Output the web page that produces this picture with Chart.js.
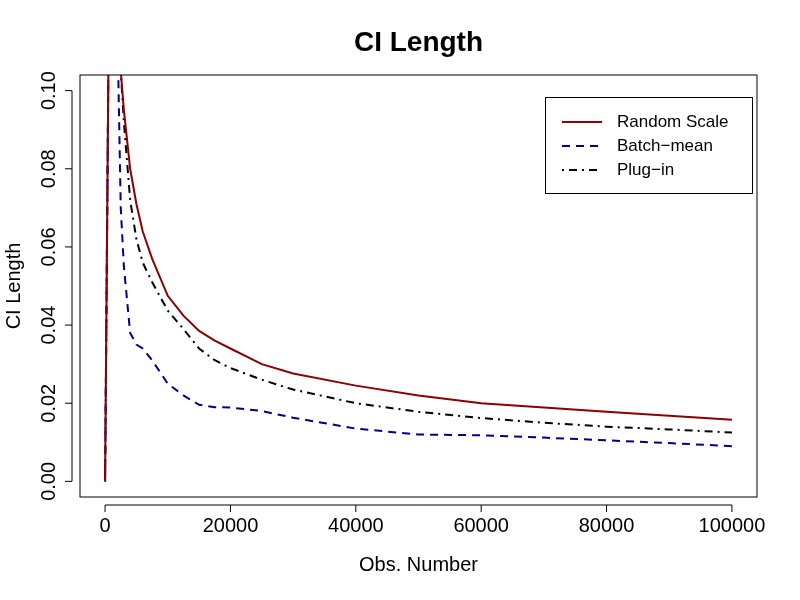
<!DOCTYPE html>
<html><head><meta charset="utf-8">
<script src="https://cdn.jsdelivr.net/npm/chart.js@4/dist/chart.umd.min.js"></script>
<style>html,body{margin:0;background:#fff}#wrap{width:800px;height:600px}</style>
</head><body><div id="wrap"><canvas id="c" width="800" height="600"></canvas></div>
<script>
var obs = [0, 1000, 2500, 3000, 4000, 5000, 6000, 7500, 10000, 12500, 15000, 17500, 20000, 25000, 30000, 40000, 50000, 60000, 70000, 80000, 90000, 100000];
var randomScale = [0, 0.2, 0.105, 0.095, 0.080, 0.071, 0.064, 0.057, 0.0475, 0.0424, 0.0385, 0.036, 0.034, 0.030, 0.0276, 0.0245, 0.022, 0.020, 0.0189, 0.0178, 0.0168, 0.0158];
var batchMean = [0, 0.2, 0.07, 0.055, 0.038, 0.035, 0.034, 0.031, 0.025, 0.022, 0.0196, 0.019, 0.0189, 0.018, 0.0163, 0.0135, 0.012, 0.0118, 0.0112, 0.0105, 0.0098, 0.009];
var plugIn = [0, 0.2, 0.105, 0.092, 0.072, 0.062, 0.056, 0.051, 0.0437, 0.039, 0.034, 0.031, 0.029, 0.026, 0.0235, 0.020, 0.0178, 0.0162, 0.015, 0.014, 0.0133, 0.0125];
var xTicks = [0, 20000, 40000, 60000, 80000, 100000];
var yTicks = [0, 0.02, 0.04, 0.06, 0.08, 0.10];

function pts(ys) { return obs.map(function (x, i) { return { x: x, y: ys[i] }; }); }

var FONT = 'Liberation Sans, Arial, sans-serif';
var series = [
  { label: 'Random Scale', color: '#8b0000', dash: [] },
  { label: 'Batch\u2212mean', color: '#00008b', dash: [8, 6] },
  { label: 'Plug\u2212in', color: '#000000', dash: [2, 5, 8, 5] }
];

var decor = {
  id: 'decor',
  afterDraw: function (chart) {
    var ctx = chart.ctx, a = chart.chartArea, xs = chart.scales.x, ys = chart.scales.y;
    ctx.save();
    ctx.strokeStyle = '#000'; ctx.lineWidth = 1; ctx.fillStyle = '#000';
    ctx.strokeRect(a.left, a.top, a.right - a.left, a.bottom - a.top);
    ctx.font = '20px ' + FONT;
    ctx.textAlign = 'center'; ctx.textBaseline = 'top';
    ctx.beginPath();
    ctx.moveTo(xs.getPixelForValue(0), a.bottom + 8); ctx.lineTo(xs.getPixelForValue(100000), a.bottom + 8);
    xTicks.forEach(function (t) {
      var p = xs.getPixelForValue(t);
      ctx.moveTo(p, a.bottom + 8); ctx.lineTo(p, a.bottom + 15);
      ctx.fillText(String(t), p, a.bottom + 19);
    });
    ctx.moveTo(a.left - 8, ys.getPixelForValue(0)); ctx.lineTo(a.left - 8, ys.getPixelForValue(0.1));
    yTicks.forEach(function (t) {
      var p = ys.getPixelForValue(t);
      ctx.moveTo(a.left - 8, p); ctx.lineTo(a.left - 15, p);
      ctx.save(); ctx.translate(a.left - 21, p); ctx.rotate(-Math.PI / 2);
      ctx.textBaseline = 'bottom'; ctx.fillText(t.toFixed(2), 0, 0); ctx.restore();
    });
    ctx.stroke();
    ctx.fillText('Obs. Number', (a.left + a.right) / 2, 555);
    ctx.save(); ctx.translate(14, (a.top + a.bottom) / 2); ctx.rotate(-Math.PI / 2);
    ctx.textBaseline = 'middle'; ctx.fillText('CI Length', 0, 0); ctx.restore();
    ctx.font = 'bold 28px ' + FONT; ctx.textBaseline = 'middle';
    ctx.fillText('CI Length', (a.left + a.right) / 2, 43);
    // legend
    ctx.fillStyle = '#fff'; ctx.fillRect(545, 97, 207, 96);
    ctx.strokeRect(545.5, 97.5, 207, 96);
    ctx.font = '17px ' + FONT; ctx.textAlign = 'left'; ctx.fillStyle = '#000';
    series.forEach(function (s, i) {
      var y = 122 + i * 24;
      ctx.beginPath(); ctx.strokeStyle = s.color; ctx.lineWidth = 2; ctx.setLineDash(s.dash);
      ctx.moveTo(562, y); ctx.lineTo(602, y); ctx.stroke();
      ctx.setLineDash([]);
      ctx.fillText(s.label, 617, y);
    });
    ctx.restore();
  }
};

new Chart(document.getElementById('c'), {
  type: 'line',
  data: {
    datasets: [
      { label: series[0].label, data: pts(randomScale), borderColor: series[0].color, borderDash: series[0].dash },
      { label: series[1].label, data: pts(batchMean), borderColor: series[1].color, borderDash: series[1].dash },
      { label: series[2].label, data: pts(plugIn), borderColor: series[2].color, borderDash: series[2].dash }
    ]
  },
  options: {
    responsive: false, animation: false,
    layout: { padding: { left: 80, right: 43, top: 75, bottom: 103 } },
    elements: { point: { radius: 0 }, line: { borderWidth: 2, tension: 0 } },
    plugins: { legend: { display: false }, tooltip: { enabled: false } },
    scales: {
      x: { type: 'linear', min: -4000, max: 104000, display: false },
      y: { min: -0.004, max: 0.104, display: false }
    }
  },
  plugins: [decor]
});
</script></body></html>
